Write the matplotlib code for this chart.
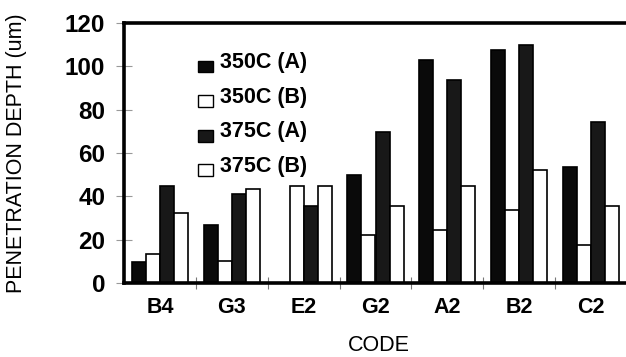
import numpy as np
import matplotlib
matplotlib.use('Agg')
import matplotlib.pyplot as plt
from matplotlib.patches import Rectangle

plt.rcParams['font.family'] = ['Liberation Sans', 'DejaVu Sans']

# data
codes = ['B4', 'G3', 'E2', 'G2', 'A2', 'B2', 'C2']
a350 = [9.5, 27, 0, 50, 103, 107.5, 53.5]
b350 = [13.5, 10, 45, 22, 24.5, 33.5, 17.5]
a375 = [45, 41, 35.5, 69.5, 93.5, 110, 74.5]
b375 = [32.5, 43.5, 45, 35.5, 45, 52, 35.5]

labels = ['350C (A)', '350C (B)', '375C (A)', '375C (B)']
series = [a350, b350, a375, b375]
faces = ['#0a0a0a', 'white', '#181818', 'white']

fig = plt.figure(figsize=(6.26, 3.57), dpi=100)
ax = fig.add_axes([124 / 626, 74 / 357, 503 / 626, 260 / 357])

x = np.arange(len(codes))
w = 0.195
for i, (vals, fc) in enumerate(zip(series, faces)):
    ax.bar(x + (i - 1.5) * w, vals, w, color=fc, edgecolor='black',
           linewidth=1.2, zorder=2)

ax.set_xlim(-0.5, len(codes) - 0.5)
ax.set_ylim(0, 120)
ax.set_yticks(range(0, 121, 20))
ax.set_xticks(x)
ax.set_xticklabels(codes, fontsize=15.5, fontweight='bold')
ax.set_xticks(np.arange(len(codes)) + 0.5, minor=True)
ax.tick_params(axis='x', which='major', length=0, pad=10)
ax.tick_params(axis='x', which='minor', length=8, direction='inout',
               color='#777', width=0.8)
ax.tick_params(axis='y', length=11, direction='inout', color='#999',
               width=0.8, pad=8, labelsize=17.5)
for t in ax.get_yticklabels():
    t.set_fontweight('bold')

for s in ['top', 'left', 'bottom']:
    ax.spines[s].set_linewidth(2.6)
ax.spines['right'].set_visible(False)

# legend drawn by hand
for i, (lab, fc) in enumerate(zip(labels, faces)):
    y0 = 0.810 - i * 0.133
    ax.add_patch(Rectangle((0.147, y0), 0.03, 0.045, transform=ax.transAxes,
                           facecolor=fc, edgecolor='black', linewidth=1.0,
                           clip_on=False, zorder=3))
    ax.text(0.191, y0 + 0.016, lab, transform=ax.transAxes, fontsize=15.5,
            fontweight='bold', va='baseline', ha='left')

fig.text(17 / 626, 1 - 153.5 / 357, 'PENETRATION DEPTH (um)', rotation=90,
         ha='center', va='center', fontsize=15.5)
fig.text(379 / 626, 1 / 357, 'CODE', ha='center', va='bottom', fontsize=15.5)

fig.savefig('out.png', dpi=100)
